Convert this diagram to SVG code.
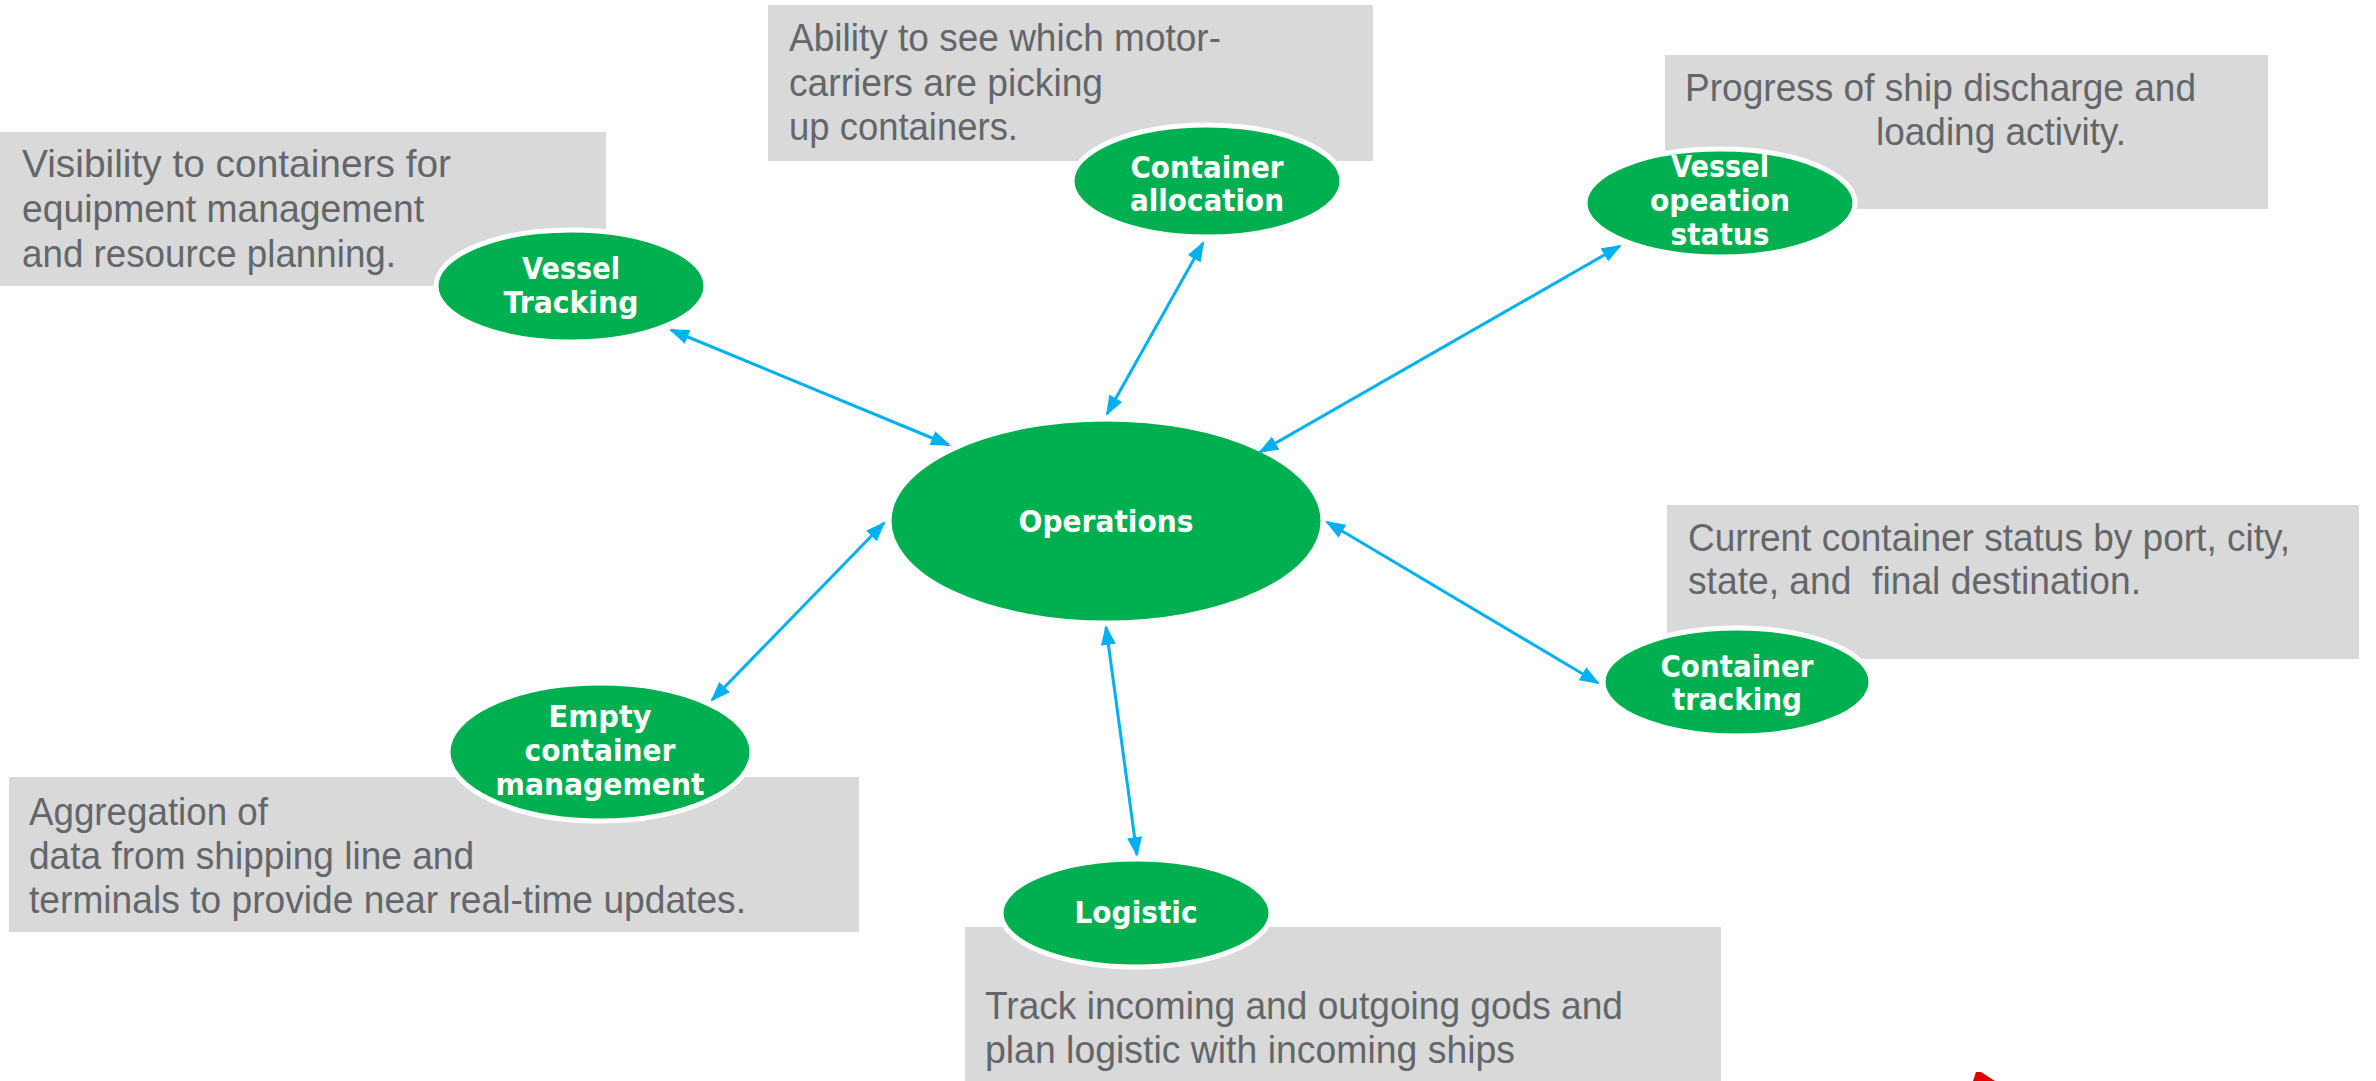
<svg xmlns="http://www.w3.org/2000/svg" width="2376" height="1081" viewBox="0 0 2376 1081">
<style>
.box{fill:#d9d9d9}
.desc{font-family:"Liberation Sans Narrow","Liberation Sans",Arial,sans-serif;font-size:39px;fill:#63666a}
.node{fill:#00b050;stroke:#ffffff;stroke-width:5}
.lbl{font-family:"DejaVu Sans",Verdana,sans-serif;font-weight:bold;font-size:31px;fill:#ffffff;text-anchor:middle}
.conn{stroke:#00b0f0;stroke-width:3;fill:none;marker-start:url(#ah);marker-end:url(#ah)}
</style>
<defs>
<marker id="ah" viewBox="0 0 20 15" refX="18" refY="7.5" markerWidth="20" markerHeight="15" markerUnits="userSpaceOnUse" orient="auto-start-reverse">
<path d="M0,0 L20,7.5 L0,15 z" fill="#00b0f0"/>
</marker>
</defs>
<rect width="2376" height="1081" fill="#ffffff"/>

<g id="desc-vessel-tracking">
<rect class="box" x="0" y="132" width="606" height="154"/>
<text class="desc" x="22" y="177" textLength="429" lengthAdjust="spacingAndGlyphs">Visibility to containers for</text>
<text class="desc" x="22" y="222" textLength="402" lengthAdjust="spacingAndGlyphs">equipment management</text>
<text class="desc" x="22" y="267" textLength="374" lengthAdjust="spacingAndGlyphs">and resource planning.</text>
</g>
<g id="desc-container-allocation">
<rect class="box" x="768" y="5" width="605" height="156"/>
<text class="desc" x="789" y="51" textLength="432" lengthAdjust="spacingAndGlyphs">Ability to see which motor-</text>
<text class="desc" x="789" y="96" textLength="314" lengthAdjust="spacingAndGlyphs">carriers are picking</text>
<text class="desc" x="789" y="140" textLength="229" lengthAdjust="spacingAndGlyphs">up containers.</text>
</g>
<g id="desc-vessel-operation">
<rect class="box" x="1665" y="55" width="603" height="154"/>
<text class="desc" x="1685" y="101" textLength="511" lengthAdjust="spacingAndGlyphs">Progress of ship discharge and</text>
<text class="desc" x="1876" y="145" textLength="250" lengthAdjust="spacingAndGlyphs">loading activity.</text>
</g>
<g id="desc-container-tracking">
<rect class="box" x="1667" y="505" width="692" height="154"/>
<text class="desc" x="1688" y="551" textLength="602" lengthAdjust="spacingAndGlyphs">Current container status by port, city,</text>
<text class="desc" x="1688" y="594" textLength="453" lengthAdjust="spacingAndGlyphs" xml:space="preserve">state, and  final destination.</text>
</g>
<g id="desc-empty-container">
<rect class="box" x="9" y="777" width="850" height="155"/>
<text class="desc" x="29" y="825" textLength="239" lengthAdjust="spacingAndGlyphs">Aggregation of</text>
<text class="desc" x="29" y="869" textLength="445" lengthAdjust="spacingAndGlyphs">data from shipping line and</text>
<text class="desc" x="29" y="913" textLength="717" lengthAdjust="spacingAndGlyphs">terminals to provide near real-time updates.</text>
</g>
<g id="desc-logistic">
<rect class="box" x="965" y="927" width="756" height="154"/>
<text class="desc" x="985" y="1019" textLength="638" lengthAdjust="spacingAndGlyphs">Track incoming and outgoing gods and</text>
<text class="desc" x="985" y="1063" textLength="530" lengthAdjust="spacingAndGlyphs">plan logistic with incoming ships</text>
</g>

<g id="node-operations">
<ellipse class="node" cx="1106" cy="521" rx="217" ry="102"/>
<text class="lbl" x="1106" y="532" textLength="175" lengthAdjust="spacingAndGlyphs">Operations</text>
</g>
<g id="node-vessel-tracking">
<ellipse class="node" cx="571" cy="286" rx="135" ry="56"/>
<text class="lbl" x="571" y="279" textLength="98" lengthAdjust="spacingAndGlyphs">Vessel</text>
<text class="lbl" x="571" y="313" textLength="135" lengthAdjust="spacingAndGlyphs">Tracking</text>
</g>
<g id="node-container-allocation">
<ellipse class="node" cx="1207" cy="181" rx="135" ry="56"/>
<text class="lbl" x="1207" y="178" textLength="153" lengthAdjust="spacingAndGlyphs">Container</text>
<text class="lbl" x="1207" y="211" textLength="154" lengthAdjust="spacingAndGlyphs">allocation</text>
</g>
<g id="node-vessel-operation-status">
<ellipse class="node" cx="1720" cy="203" rx="135" ry="54"/>
<text class="lbl" x="1720" y="177" textLength="98" lengthAdjust="spacingAndGlyphs">Vessel</text>
<text class="lbl" x="1720" y="211" textLength="140" lengthAdjust="spacingAndGlyphs">opeation</text>
<text class="lbl" x="1720" y="245" textLength="99" lengthAdjust="spacingAndGlyphs">status</text>
</g>
<g id="node-container-tracking">
<ellipse class="node" cx="1737" cy="682" rx="134" ry="54"/>
<text class="lbl" x="1737" y="677" textLength="153" lengthAdjust="spacingAndGlyphs">Container</text>
<text class="lbl" x="1737" y="710" textLength="130" lengthAdjust="spacingAndGlyphs">tracking</text>
</g>
<g id="node-empty-container">
<ellipse class="node" cx="600" cy="752" rx="152" ry="69"/>
<text class="lbl" x="600" y="727" textLength="103" lengthAdjust="spacingAndGlyphs">Empty</text>
<text class="lbl" x="600" y="761" textLength="151" lengthAdjust="spacingAndGlyphs">container</text>
<text class="lbl" x="600" y="795" textLength="209" lengthAdjust="spacingAndGlyphs">management</text>
</g>
<g id="node-logistic">
<ellipse class="node" cx="1136" cy="913" rx="135" ry="54"/>
<text class="lbl" x="1136" y="923" textLength="123" lengthAdjust="spacingAndGlyphs">Logistic</text>
</g>

<g id="connectors">
<line class="conn" x1="671" y1="330" x2="949" y2="445"/>
<line class="conn" x1="1203" y1="243" x2="1107" y2="414"/>
<line class="conn" x1="1620" y1="246" x2="1260" y2="452"/>
<line class="conn" x1="1598" y1="683" x2="1327" y2="522"/>
<line class="conn" x1="1137" y1="855" x2="1106" y2="627"/>
<line class="conn" x1="712" y1="700" x2="884" y2="523"/>
</g>

<polygon points="1973,1081 1976,1072 1981,1072 1995,1081" fill="#e00000"/>
</svg>
